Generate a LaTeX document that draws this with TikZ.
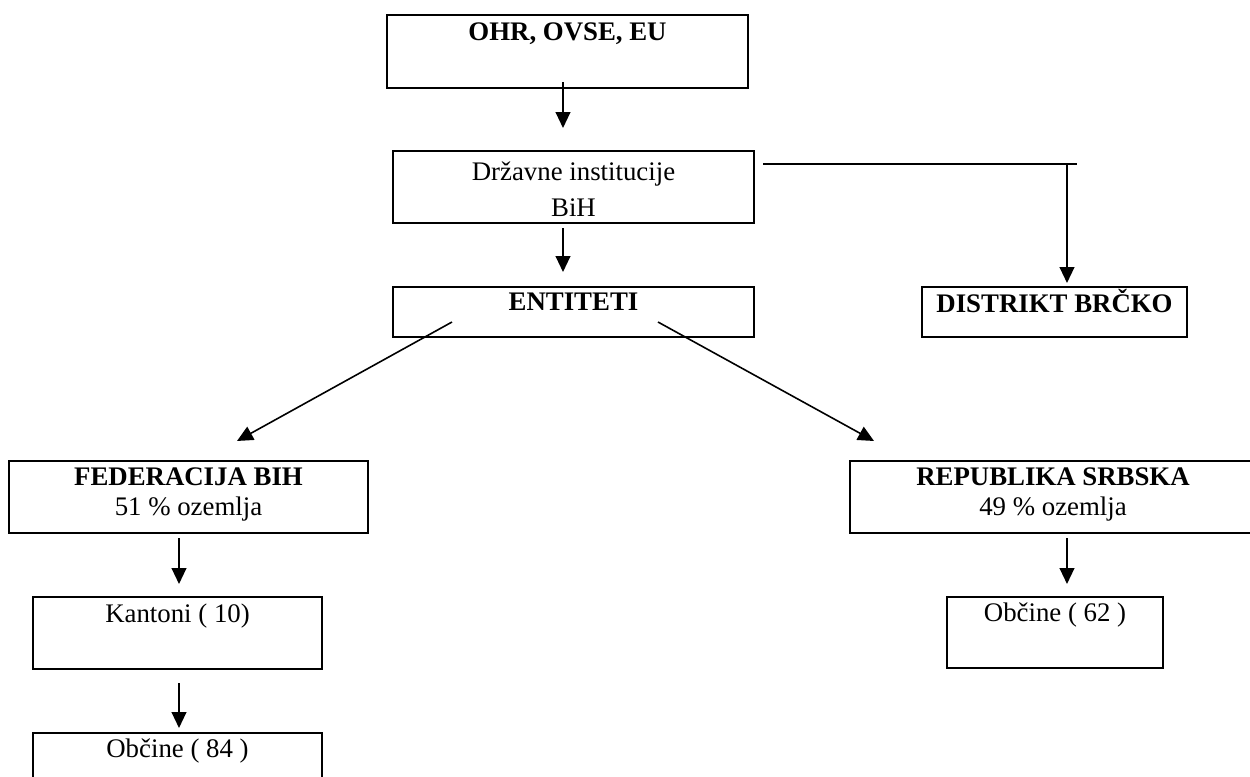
\documentclass[tikz,border=0pt]{standalone}
\usepackage{fontspec}
\setmainfont{Liberation Serif}
\usetikzlibrary{arrows.meta, positioning}
\tikzstyle{box} = [rectangle, draw, line width=0.9pt, inner sep=0pt]
\tikzstyle{boxtext} = [anchor=north, inner sep=0pt, align=center,
  font=\fontsize{11.8}{13.4}\selectfont]
\tikzstyle{line} = [draw, -{Triangle[length=7pt,width=6.5pt]}, line width=0.7pt]
\newcommand{\px}{0.44pt}
\begin{document}
\begin{tikzpicture}[x=0.44pt, y=-0.44pt]
    \useasboundingbox (0,0) rectangle (1250,776);

    \node [box, minimum width=361*\px, minimum height=73*\px] (ohr) at (567.5,51.5) {};
    \node [box, minimum width=361*\px, minimum height=72*\px] (drz) at (573.5,187) {};
    \node [box, minimum width=361*\px, minimum height=50*\px] (ent) at (573.5,312) {};
    \node [box, minimum width=265*\px, minimum height=50*\px] (brc) at (1054.5,312) {};
    \node [box, minimum width=359*\px, minimum height=72*\px] (fed) at (188.5,497) {};
    \node [box, minimum width=406*\px, minimum height=72*\px] (rs) at (1053,497) {};
    \node [box, minimum width=289*\px, minimum height=72*\px] (kan) at (177.5,633) {};
    \node [box, minimum width=289*\px, minimum height=72*\px] (obc84) at (177.5,769) {};
    \node [box, minimum width=216*\px, minimum height=71*\px] (obc62) at (1055,632.5) {};

    \node [boxtext] (ohr-t) at ([shift={(0,8)}]ohr.north) {\textbf{OHR, OVSE, EU}};
    \node [boxtext, font=\fontsize{11.8}{15.8}\selectfont] (drz-t) at ([shift={(0,11)}]drz.north) {Državne institucije\\BiH};
    \node [boxtext] (ent-t) at ([shift={(0,6)}]ent.north) {\textbf{ENTITETI}};
    \node [boxtext] (brc-t) at ([shift={(0,3)}]brc.north) {\textbf{DISTRIKT BRČKO}};
    \node [boxtext] (fed-t) at ([shift={(0,7)}]fed.north) {\textbf{FEDERACIJA BIH}\\51 \% ozemlja};
    \node [boxtext] (rs-t) at ([shift={(0,7)}]rs.north) {\textbf{REPUBLIKA SRBSKA}\\49 \% ozemlja};
    \node [boxtext] (kan-t) at ([shift={(0,7)}]kan.north) {Kantoni ( 10)};
    \node [boxtext] (obc84-t) at ([shift={(0,6)}]obc84.north) {Občine ( 84 )};
    \node [boxtext] (obc62-t) at ([shift={(0,6)}]obc62.north) {Občine ( 62 )};

    \coordinate (brcjoin) at (1067,164);

    \path [line] ([shift={(-4.5,-7)}]ohr.south) -- ([shift={(-10.5,-22)}]drz.north);
    \path [line] ([shift={(-10.5,4)}]drz.south) -- ([shift={(-10.5,-14)}]ent.north);
    \draw [line width=0.7pt] ([shift={(-304,0)}]brcjoin) -- ([shift={(10,0)}]brcjoin);
    \path [line] (brcjoin) -- ([shift={(12.5,-3)}]brc.north);
    \path [line] ([shift={(-121.5,10)}]ent.center) -- ([shift={(48.5,-19)}]fed.north);
    \path [line] ([shift={(84.5,10)}]ent.center) -- ([shift={(-179,-19)}]rs.north);
    \path [line] ([shift={(-9.5,4)}]fed.south) -- ([shift={(1.5,-12)}]kan.north);
    \path [line] ([shift={(1.5,13)}]kan.south) -- ([shift={(1.5,-4)}]obc84.north);
    \path [line] ([shift={(14,4)}]rs.south) -- ([shift={(12,-12)}]obc62.north);

\end{tikzpicture}
\end{document}
